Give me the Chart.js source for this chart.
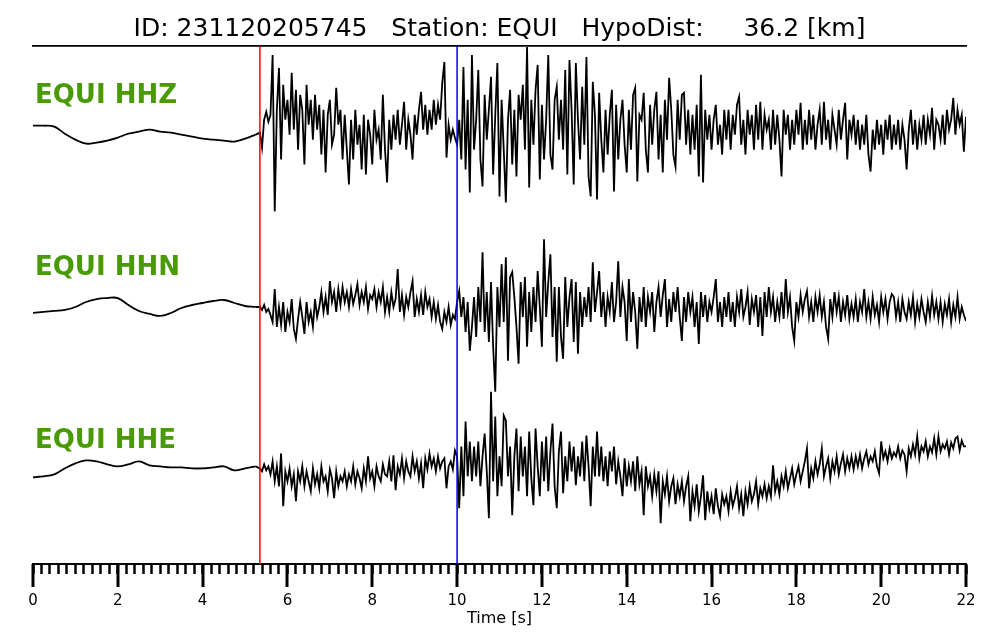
<!DOCTYPE html>
<html>
<head>
<meta charset="utf-8">
<title>EQUI waveforms</title>
<script src="https://cdn.jsdelivr.net/npm/chart.js@4.4.1/dist/chart.umd.min.js"></script>
<style>
  html, body { margin: 0; padding: 0; background: #fff; }
  #wrap { width: 1000px; height: 640px; }
</style>
</head>
<body>
<div id="wrap"><canvas id="chart" width="1000" height="640"></canvas></div>
<script>
/* waveform plot, amplitudes in plot units */

const title = 'ID: 231120205745   Station: EQUI   HypoDist:     36.2 [km]';
const channels = ['EQUI HHZ', 'EQUI HHN', 'EQUI HHE'];
const picks = [5.35, 10.0];           // P (red), S (blue) in seconds
const xTicks = [0, 2, 4, 6, 8, 10, 12, 14, 16, 18, 20, 22];

// pre-event samples, every 0.25 s from 0 s
const zPre = [4, 4, 3, -4, -10, -14, -13, -11, -8, -4, -2, 0, -2, -3, -5, -7, -9, -10, -11, -12, -9, -5];
const nPre = [-6, -5, -4, -3, 0, 5, 8, 9, 9, 2, -4, -7, -9, -6, -1, 2, 4, 6, 7, 4, 1, 0];
const ePre = [-11, -10, -8, -2, 3, 6, 5, 2, 0, 2, 5, 1, 0, -1, -1, -2, -2, -1, 0, -4, -2, 0];

// post-pick samples, every 0.05 s from 5.35 s (one row = one second)
const zPost = [
  -3, -18, 10, 18, 8, 15, 75, -82, 20, 62, -30, 45, 10, 30, -5, 57, 0, 40, -20, 35,
  20, -35, 45, 5, 30, -10, 35, 0, 25, -25, 20, -43, 15, 30, -15, -5, 42, 5, 20, -30,
  15, -20, -55, 10, -30, 20, -15, 5, -40, 15, -45, 10, -5, -35, 20, -10, 0, -30, 35, -20,
  -53, 10, -20, 15, -10, 20, -15, 5, 28, -20, 10, -5, -30, 15, -5, 20, 38, 0, 25, -5,
  20, 0, 30, 5, 25, 10, 47, 68, -28, 5, -10, 0, -8, -15, 10, -30, 63, -40, 30, -63,
  75, -20, 10, 60, -30, -57, 35, -10, 20, 53, -45, 15, 67, -67, 30, -20, -73, 10, 40, -35,
  20, -47, 35, 10, 45, -20, 83, -58, 30, -15, 40, 65, -50, 25, -30, 10, 75, -25, -40, 30,
  43, -10, 30, -20, 60, -45, 70, 20, -55, 67, 10, -30, 43, -15, 73, -47, -67, 48, 15, -70,
  37, -10, -43, 20, -25, 15, 40, -62, 25, -30, 10, 30, -15, -43, 20, -20, 35, 42, -52, 15,
  10, 37, -20, -43, 25, -15, 20, 38, -30, 15, -43, 30, -10, 52, 20, -25, -37, 30, -10, 35,
  37, -15, 20, -25, 15, -20, 25, -47, 55, -53, 20, -10, 15, -20, 10, 25, -15, 5, -25, 20,
  -10, 20, -20, 15, -5, 25, 33, -15, 10, -25, 20, -5, 15, -20, 25, -10, 28, -20, 15, 0,
  10, -20, 20, -15, 15, -10, -47, 20, -5, 15, -20, 10, -15, 20, -5, 27, -20, 10, -15, 20,
  -10, 15, -20, 5, 20, -15, 28, -10, 10, -20, 15, 0, -15, 20, -10, 10, 27, -30, 10, -5,
  15, -15, 10, -20, 5, -15, 15, -25, -42, 0, -20, 10, -15, 5, -25, 10, -10, 15, -20, 5,
  -15, 10, -20, 5, -10, -40, 0, 20, -15, 10, -20, 5, -10, 15, -15, 10, -5, 22, -20, 10,
  5, -10, 15, -15, 20, 0, 10, 32, -5, 20, 5, 15, -22, 13
];
const nPost = [
  0, -3, 2, -5, -2, -8, -15, 18, -20, 0, -18, 5, -25, -5, -15, 8, -22, -32, -12, 5,
  -10, -27, 5, -15, -5, -20, 8, -10, 0, 15, -5, 10, -8, 26, 5, 15, -5, 18, 2, 20,
  5, 15, 0, 18, 3, 12, 23, 2, 15, 5, 20, -2, 12, 8, 18, 0, 15, 5, 20, -5,
  10, -5, 15, 0, 8, 38, -5, 12, -8, 10, 0, 15, 26, -10, 8, -5, 12, -8, 15, 0,
  8, -10, 5, -12, 2, -15, -22, -5, -15, 0, -18, -8, -12, 5, 16, -10, 10, -25, 5, -44,
  -20, 10, -30, 20, -15, 55, -25, 15, -35, 25, -40, -85, 20, -20, 43, -15, 50, -54, 30, 35,
  10, -20, -57, 25, -10, 30, -40, 15, -25, 20, -15, 36, 0, -40, 68, -10, 25, 53, -30, 20,
  -55, 20, -30, -52, 30, -20, 10, 28, -35, 25, -47, 15, -20, 10, -10, 20, -15, 45, -5, 15,
  36, -10, 15, -20, 10, -5, 25, -15, 5, 46, -10, 20, 5, -34, 28, -15, 15, -5, -42, 10,
  -15, 20, -20, 10, -5, 15, -25, 5, 20, -10, 12, 28, -20, 8, -15, 15, -5, 20, -10, -34,
  10, -15, 15, -5, 10, -20, 5, -37, 15, -10, 12, -15, 5, -5, 10, 28, -15, 5, -20, 10,
  -10, 15, -15, 5, -20, 10, -5, 18, -10, 0, 15, -18, 8, -5, 12, -20, 10, -29, 15, -10,
  20, -5, 10, -15, 5, -10, 15, -12, 28, -5, 10, -20, -34, 5, -10, 12, -5, 8, 16, -10,
  5, -15, 10, -5, 12, -10, 5, -20, -32, 8, -10, 15, -5, 10, -15, 5, -8, 12, -12, 3,
  -10, 8, -15, 5, -5, 18, -10, 5, -12, 10, -8, 2, -15, 10, -5, 8, -12, 5, 13, 10,
  -10, 5, -15, 8, -5, -12, 5, -8, 10, -15, 3, -10, 8, -5, -15, 5, -10, 11, -8, 5,
  -12, 5, -15, 3, -8, 8, -15, 2, -10, 10, -12, 0, -8, -14
];
const ePost = [
  -2, -5, 2, -4, 0, -8, 5, -15, 0, -20, 13, -40, -5, -15, -2, -20, -8, -35, -5, -15,
  0, -20, -5, -15, -25, -2, -18, -8, -22, 0, -15, -10, -25, -3, -12, -32, -5, -20, -10, -15,
  -5, -20, -8, -15, 0, -18, -5, -12, -22, -2, -15, 10, -12, -5, -20, 0, -10, -15, 2, -8,
  -10, 5, -15, 11, -24, 0, -8, 8, -12, 5, -5, -10, 10, -5, 5, -12, 3, -22, 8, -3,
  13, 0, 8, -5, 10, -2, 5, 8, -22, 0, 5, -3, 16, 10, -42, 20, -30, 45, -10, 25,
  -15, 20, -10, 25, -20, 10, 33, -5, -52, 75, -15, 50, -30, 10, -20, 51, 46, -10, 20, -49,
  10, 38, -25, 30, -10, 20, -30, 35, -12, -39, 38, 0, -30, 25, -15, 30, -25, 15, 43, -20,
  -42, 15, 35, -27, 10, -15, 25, -5, 20, -19, 10, -10, 25, -15, 31, 0, -40, 20, -10, 35,
  -10, 20, -15, 10, -20, 15, -5, 20, -18, 5, -10, -30, 8, -20, 0, -15, 5, -25, 10, -18,
  -5, -49, 0, -20, -10, -30, -8, -25, -5, -57, -15, -28, -10, -35, -20, -12, -38, -18, -30, -15,
  -35, -20, -10, -55, -25, -40, -18, -45, -30, -9, -54, -25, -42, -30, -48, -22, -40, -50, -28, -38,
  -30, -45, -25, -40, -32, -20, -42, -28, -50, -25, -38, -20, -35, -28, -15, -38, -22, -30, -18, -32,
  -20, -30, 1, -25, -15, -28, -10, -20, -5, -22, -12, -2, -18, -8, 0, -15, -5, 5, 18, -22,
  -2, -12, 5, -8, 2, 18, -10, 0, 8, -12, 5, -5, 10, -8, 3, 12, -5, 8, -2, 10,
  -3, 10, 0, 12, -2, 8, 15, 2, 10, 5, 15, 0, -7, 25, 8, 15, 5, 18, 8, 14,
  10, 20, 8, 16, 12, -5, 18, 10, 22, 12, 30, 8, 20, 15, 25, 10, 20, 14, 28, 12,
  30, 15, 22, 18, 25, 12, 24, 18, 28, 30, 16, 26, 20, 20
];

const PRE_DT = 0.25, POST_T0 = 5.35, POST_DT = 0.05;
const Y_MAX = 520;
const baselines = [436, 258, 98];     // trace offsets on the y scale
const labelLevels = [463, 290, 116];  // text baselines on the y scale
const GREEN = '#4a9a06';
const FONT = '"DejaVu Sans", sans-serif';

// quiet part before the pick, drawn smooth
function prePoints(pre, offset) {
  return pre.map((v, i) => ({ x: i * PRE_DT, y: v + offset }));
}

// recorded part from the pick, joined to the last quiet sample
function postPoints(pre, post, offset) {
  const last = pre.length - 1;
  const pts = [{ x: last * PRE_DT, y: pre[last] + offset }];
  post.forEach((v, i) => pts.push({ x: POST_T0 + i * POST_DT, y: v + offset }));
  return pts;
}

function isMajor(v) { return xTicks.some(t => Math.abs(t - v) < 1e-6); }

function pickLine(t, color) {
  return {
    data: [{ x: t, y: 0 }, { x: t, y: Y_MAX }],
    borderColor: color, borderWidth: 1.5, pointRadius: 0, fill: false
  };
}

function traceSet(points, tension) {
  return {
    data: points, borderColor: '#000', borderWidth: 1.8,
    pointRadius: 0, fill: false, tension: tension
  };
}

const overlay = {
  id: 'overlay',
  afterDraw(chart) {
    const { ctx } = chart;
    const x = chart.scales.x, y = chart.scales.y;
    ctx.save();
    // long ticks at the labelled positions
    ctx.strokeStyle = '#000';
    ctx.lineWidth = 3;
    xTicks.forEach(t => {
      const px = Math.round(x.getPixelForValue(t));
      ctx.beginPath();
      ctx.moveTo(px, x.top);
      ctx.lineTo(px, x.top + 23);
      ctx.stroke();
    });
    // channel names
    ctx.fillStyle = GREEN;
    ctx.font = 'bold 26px ' + FONT;
    ctx.textAlign = 'left';
    ctx.textBaseline = 'alphabetic';
    channels.forEach((name, i) => ctx.fillText(name, x.left + 2, y.getPixelForValue(labelLevels[i])));
    ctx.restore();
  }
};

document.addEventListener('DOMContentLoaded', () => {
  Chart.defaults.font.family = FONT;
  Chart.defaults.color = '#000';

  const traces = [[zPre, zPost], [nPre, nPost], [ePre, ePost]];
  const traceSets = [];
  traces.forEach(([pre, post], i) => {
    traceSets.push(traceSet(prePoints(pre, baselines[i]), 0.4));
    traceSets.push(traceSet(postPoints(pre, post, baselines[i]), 0));
  });

  new Chart(document.getElementById('chart'), {
    type: 'line',
    data: {
      datasets: [
        pickLine(picks[0], 'rgb(255,0,0)'),
        pickLine(picks[1], 'rgb(0,0,255)'),
        ...traceSets
      ]
    },
    options: {
      responsive: false,
      animation: false,
      devicePixelRatio: 1,
      layout: { padding: { left: 33, right: 34, top: 0, bottom: 13 } },
      plugins: {
        legend: { display: false },
        tooltip: { enabled: false },
        title: {
          display: true,
          text: title,
          color: '#000',
          font: { size: 25, weight: 'normal', lineHeight: 1.2 },
          padding: { top: 14, bottom: 2 }
        }
      },
      scales: {
        x: {
          type: 'linear',
          position: 'bottom',
          min: 0, max: 22,
          border: { display: true, color: '#000', width: 2 },
          grid: { drawOnChartArea: false, drawTicks: true, tickLength: 10, tickWidth: 2.5, tickColor: '#000' },
          ticks: {
            stepSize: 0.2, autoSkip: false, maxRotation: 0, padding: 20,
            font: { size: 15, lineHeight: 1 },
            callback: v => isMajor(v) ? String(Math.round(v)) : ''
          },
          title: {
            display: true, text: 'Time [s]',
            font: { size: 16, lineHeight: 1 },
            padding: { top: -18, bottom: 0 }
          }
        },
        xTop: {
          type: 'linear',
          position: 'top',
          min: 0, max: 22,
          border: { display: true, color: '#000', width: 1.7 },
          grid: { display: false, drawTicks: false },
          ticks: { display: false }
        },
        y: { display: false, min: 0, max: Y_MAX }
      }
    },
    plugins: [overlay]
  });
});
</script>
</body>
</html>
